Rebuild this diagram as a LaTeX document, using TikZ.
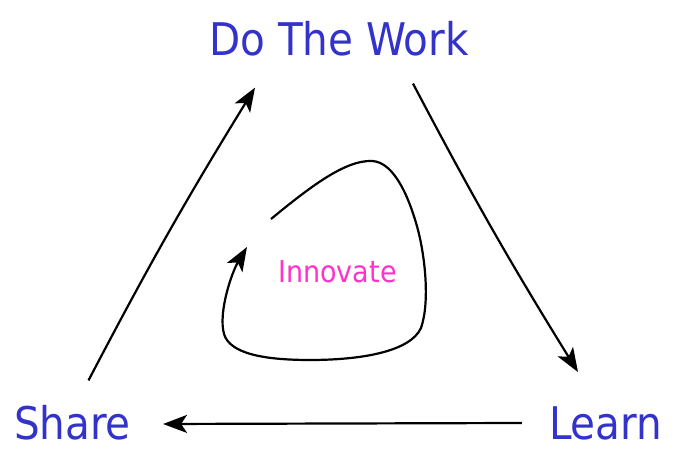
\documentclass[tikz,border=0pt]{standalone}
\usepackage{fontspec}
\setmainfont{DejaVu Sans Condensed}
\usepackage{xcolor}
\usepackage{tikz}
\usetikzlibrary{arrows.meta,calc}
\definecolor{stepblue}{RGB}{51,51,204}
\definecolor{innopink}{RGB}{255,51,204}

\begin{document}
\begin{tikzpicture}[x=1pt,y=1pt,
	lbl/.style={inner sep=0pt,text=stepblue,font=\fontsize{45}{54}\selectfont},
	arr/.style={-{Stealth[length=24pt,width=18pt,inset=6pt]},line width=2.2pt,black}]
	\useasboundingbox[fill=white] (0,0) rectangle (677,462);
	\node[lbl] (do) at (339,423) {Do The Work};
	\node[lbl] (share) at (72.5,39) {Share};
	\node[lbl] (learn) at (605.5,39) {Learn};
	\node[inner sep=0pt,text=innopink,font=\fontsize{30}{36}\selectfont] (innov) at (337.5,190.5) {Innovate};
	\draw[arr] ([shift={(16,25)}]share.north) to[bend left=2] ([shift={(-84,-31)}]do.south);
	\draw[arr] ([shift={(74,-27)}]do.south) to[bend right=2] ([shift={(-27.5,34)}]learn.north);
	\draw[arr] ([shift={(-27,0)}]learn.west) -- ([shift={(32,-1)}]share.east);
	% the inner loop
	\draw[arr] (271,243) .. controls (310,275) and (345,302) .. (372,301)
		.. controls (395,300) and (410,262) .. (418,232)
		.. controls (425,205) and (430,160) .. (421,134)
		.. controls (410,110) and (360,102) .. (310,102)
		.. controls (265,102) and (230,108) .. (224,128)
		.. controls (218,150) and (232,190) .. (247,215);
\end{tikzpicture}
\end{document}
